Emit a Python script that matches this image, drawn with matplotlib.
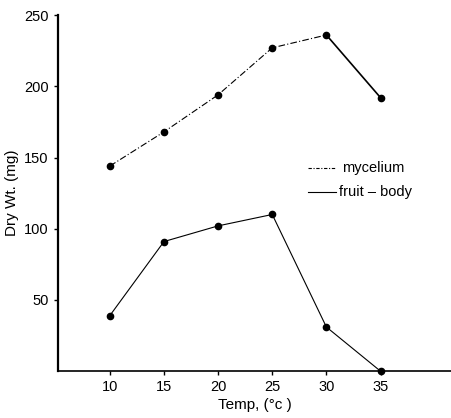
import matplotlib
matplotlib.use("Agg")
import matplotlib.pyplot as plt

temps = [10, 15, 20, 25, 30, 35]
mycelium = [144, 168, 194, 227, 236, 192]
fruit_body = [39, 91, 102, 110, 31, 0]
yticks = [50, 100, 150, 200, 250]

plt.rcParams['font.family'] = ['Liberation Sans', 'DejaVu Sans']

fig = plt.figure(figsize=(4.52, 4.18), dpi=100)
ax = fig.add_axes([0.128, 0.112, 0.872, 0.852])

# mycelium: dash-dot up to 30, solid 30-35
ax.plot(temps[:5], mycelium[:5], color='black', lw=0.8, linestyle=(0, (6, 2, 1, 2)))
ax.plot(temps[4:], mycelium[4:], color='black', lw=1.2)
ax.plot(temps, mycelium, 'o', color='black', ms=4.5, zorder=3)
ax.plot(temps, fruit_body, '-o', color='black', lw=0.8, ms=4.5, zorder=3, clip_on=False)

ax.set_xlim(5.2, 41.6)
ax.set_ylim(0, 250)
ax.set_xticks(temps)
ax.set_yticks(yticks)
ax.spines['top'].set_visible(False)
ax.spines['right'].set_visible(False)
ax.spines['left'].set_linewidth(1.6)
ax.spines['bottom'].set_linewidth(1.2)
ax.tick_params(axis='both', labelsize=10.5, direction='out', length=3, width=1)
ax.set_xlabel('Temp, (°c )', fontsize=11, labelpad=3)
ax.set_ylabel('Dry Wt. (mg)', fontsize=11, labelpad=4)

# legend
ax.plot([28.3, 30.85], [142.5, 142.5], color='black', lw=0.8, linestyle=(0, (3, 1.5, 1, 1.5)))
ax.text(31.4, 142.5, 'mycelium', fontsize=10.5, va='center', ha='left')
ax.plot([28.3, 30.85], [125.5, 125.5], color='black', lw=0.8)
ax.text(31.2, 125.5, 'fruit – body', fontsize=10.5, va='center', ha='left')

fig.savefig('out.png', dpi=100)
